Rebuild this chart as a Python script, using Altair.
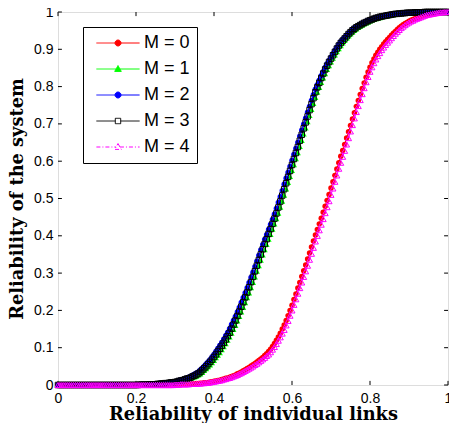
import altair as alt
import pandas as pd

# x sampling grid of the curves (step 0.005 from 0 to 1)
x_values = [round(i * 0.005, 3) for i in range(201)]

# M = 0 (red), zero up to x = 0.295, then from x = 0.300
m0 = [0.0] * 60 + [
    0.001, 0.001, 0.001, 0.002, 0.002, 0.002, 0.002, 0.003, 0.003, 0.003,
    0.003, 0.004, 0.004, 0.005, 0.005, 0.006, 0.006, 0.007, 0.008, 0.009,
    0.010, 0.011, 0.012, 0.013, 0.015, 0.016, 0.018, 0.019, 0.021, 0.023,
    0.025, 0.027, 0.030, 0.032, 0.035, 0.038, 0.041, 0.044, 0.047, 0.051,
    0.054, 0.058, 0.062, 0.066, 0.070, 0.074, 0.079, 0.084, 0.090, 0.096,
    0.103, 0.111, 0.120, 0.129, 0.139, 0.150, 0.161, 0.173, 0.186, 0.200,
    0.214, 0.229, 0.244, 0.260, 0.275, 0.291, 0.306, 0.322, 0.338, 0.354,
    0.370, 0.386, 0.402, 0.417, 0.432, 0.447, 0.463, 0.479, 0.495, 0.511,
    0.528, 0.545, 0.562, 0.579, 0.596, 0.613, 0.629, 0.645, 0.662, 0.679,
    0.696, 0.713, 0.730, 0.747, 0.763, 0.779, 0.795, 0.810, 0.825, 0.839,
    0.852, 0.864, 0.874, 0.884, 0.892, 0.900, 0.907, 0.914, 0.920, 0.926,
    0.932, 0.938, 0.943, 0.948, 0.953, 0.958, 0.962, 0.966, 0.969, 0.972,
    0.975, 0.978, 0.980, 0.982, 0.984, 0.986, 0.988, 0.990, 0.991, 0.992,
    0.994, 0.995, 0.996, 0.997, 0.997, 0.998, 0.999, 0.999, 1.000, 1.000,
    1.000]

# M = 1 (green), zero up to x = 0.195, then from x = 0.200
m1 = [0.0] * 40 + [
    0.000, 0.000, 0.000, 0.000, 0.001, 0.001, 0.001, 0.001, 0.001, 0.001,
    0.002, 0.002, 0.002, 0.003, 0.003, 0.004, 0.004, 0.005, 0.005, 0.006,
    0.007, 0.008, 0.009, 0.010, 0.011, 0.013, 0.014, 0.016, 0.018, 0.020,
    0.022, 0.024, 0.027, 0.030, 0.034, 0.039, 0.044, 0.049, 0.054, 0.060,
    0.066, 0.073, 0.080, 0.087, 0.095, 0.103, 0.111, 0.120, 0.129, 0.139,
    0.149, 0.160, 0.172, 0.184, 0.196, 0.208, 0.221, 0.234, 0.247, 0.261,
    0.275, 0.290, 0.305, 0.320, 0.335, 0.349, 0.363, 0.377, 0.391, 0.404,
    0.418, 0.432, 0.446, 0.461, 0.477, 0.493, 0.509, 0.526, 0.543, 0.559,
    0.575, 0.591, 0.607, 0.623, 0.640, 0.656, 0.673, 0.689, 0.706, 0.723,
    0.739, 0.755, 0.771, 0.785, 0.798, 0.811, 0.823, 0.835, 0.846, 0.856,
    0.866, 0.876, 0.885, 0.894, 0.902, 0.910, 0.917, 0.924, 0.930, 0.936,
    0.941, 0.946, 0.951, 0.955, 0.959, 0.962, 0.965, 0.968, 0.971, 0.973,
    0.976, 0.978, 0.980, 0.982, 0.984, 0.985, 0.987, 0.988, 0.989, 0.990,
    0.991, 0.992, 0.993, 0.994, 0.995, 0.995, 0.996, 0.996, 0.997, 0.997,
    0.998, 0.998, 0.998, 0.999, 0.999, 0.999, 0.999, 0.999, 1.000, 1.000,
    1.0, 1.0, 1.0, 1.0, 1.0, 1.0, 1.0, 1.0, 1.0, 1.0, 1.0]

# M = 2 (blue)
m2 = [0.0] * 40 + [
    0.000, 0.000, 0.001, 0.001, 0.001, 0.001, 0.002, 0.002, 0.002, 0.002,
    0.003, 0.003, 0.004, 0.004, 0.005, 0.005, 0.006, 0.007, 0.008, 0.008,
    0.009, 0.011, 0.012, 0.014, 0.015, 0.017, 0.019, 0.021, 0.023, 0.026,
    0.029, 0.032, 0.035, 0.040, 0.045, 0.050, 0.056, 0.062, 0.068, 0.075,
    0.082, 0.090, 0.098, 0.106, 0.114, 0.123, 0.132, 0.141, 0.151, 0.162,
    0.173, 0.184, 0.196, 0.208, 0.221, 0.234, 0.247, 0.260, 0.274, 0.288,
    0.302, 0.317, 0.332, 0.347, 0.362, 0.376, 0.390, 0.403, 0.417, 0.430,
    0.444, 0.458, 0.473, 0.489, 0.505, 0.521, 0.538, 0.554, 0.570, 0.586,
    0.602, 0.618, 0.634, 0.650, 0.667, 0.683, 0.699, 0.715, 0.731, 0.747,
    0.763, 0.778, 0.793, 0.805, 0.817, 0.829, 0.840, 0.851, 0.861, 0.870,
    0.879, 0.888, 0.897, 0.905, 0.913, 0.920, 0.926, 0.932, 0.938, 0.943,
    0.948, 0.953, 0.957, 0.961, 0.964, 0.967, 0.970, 0.972, 0.975, 0.977,
    0.979, 0.981, 0.983, 0.985, 0.986, 0.987, 0.988, 0.990, 0.991, 0.992,
    0.993, 0.994, 0.994, 0.995, 0.996, 0.996, 0.997, 0.997, 0.998, 0.998,
    0.998, 0.999, 0.999, 0.999, 0.999, 1.000, 1.000, 1.000, 1.000, 1.000,
    1.0, 1.0, 1.0, 1.0, 1.0, 1.0, 1.0, 1.0, 1.0, 1.0, 1.0]

# M = 3 (black)
m3 = [0.0] * 40 + [
    0.000, 0.000, 0.001, 0.001, 0.001, 0.001, 0.001, 0.002, 0.002, 0.002,
    0.002, 0.003, 0.003, 0.004, 0.004, 0.005, 0.005, 0.006, 0.007, 0.007,
    0.008, 0.009, 0.011, 0.012, 0.013, 0.015, 0.017, 0.018, 0.020, 0.023,
    0.025, 0.028, 0.031, 0.035, 0.040, 0.045, 0.050, 0.056, 0.062, 0.068,
    0.075, 0.082, 0.090, 0.097, 0.105, 0.113, 0.122, 0.131, 0.140, 0.151,
    0.162, 0.173, 0.185, 0.197, 0.210, 0.222, 0.235, 0.248, 0.262, 0.276,
    0.290, 0.305, 0.320, 0.335, 0.350, 0.364, 0.378, 0.391, 0.405, 0.418,
    0.432, 0.446, 0.460, 0.476, 0.492, 0.508, 0.525, 0.541, 0.558, 0.574,
    0.590, 0.606, 0.622, 0.638, 0.655, 0.671, 0.688, 0.704, 0.720, 0.737,
    0.753, 0.769, 0.785, 0.798, 0.810, 0.823, 0.835, 0.846, 0.856, 0.866,
    0.875, 0.884, 0.893, 0.902, 0.910, 0.917, 0.923, 0.929, 0.935, 0.941,
    0.946, 0.951, 0.955, 0.959, 0.962, 0.965, 0.968, 0.971, 0.973, 0.976,
    0.978, 0.980, 0.982, 0.984, 0.985, 0.987, 0.988, 0.989, 0.990, 0.991,
    0.992, 0.993, 0.994, 0.995, 0.995, 0.996, 0.996, 0.997, 0.997, 0.998,
    0.998, 0.998, 0.998, 0.999, 0.999, 0.999, 0.999, 0.999, 1.000, 1.000,
    1.0, 1.0, 1.0, 1.0, 1.0, 1.0, 1.0, 1.0, 1.0, 1.0, 1.0]

# M = 4 (magenta)
m4 = [0.0] * 60 + [
    0.001, 0.001, 0.001, 0.002, 0.002, 0.002, 0.002, 0.002, 0.003, 0.003,
    0.003, 0.003, 0.004, 0.004, 0.005, 0.005, 0.006, 0.006, 0.007, 0.008,
    0.009, 0.010, 0.011, 0.012, 0.013, 0.015, 0.016, 0.018, 0.019, 0.021,
    0.023, 0.025, 0.027, 0.030, 0.032, 0.035, 0.038, 0.041, 0.044, 0.047,
    0.050, 0.054, 0.057, 0.061, 0.065, 0.069, 0.073, 0.078, 0.082, 0.088,
    0.095, 0.102, 0.110, 0.119, 0.128, 0.138, 0.148, 0.160, 0.172, 0.186,
    0.200, 0.215, 0.230, 0.245, 0.260, 0.275, 0.290, 0.305, 0.320, 0.336,
    0.352, 0.368, 0.385, 0.400, 0.415, 0.430, 0.445, 0.461, 0.477, 0.493,
    0.510, 0.527, 0.545, 0.562, 0.580, 0.596, 0.612, 0.628, 0.645, 0.662,
    0.680, 0.697, 0.715, 0.732, 0.748, 0.764, 0.780, 0.796, 0.812, 0.826,
    0.840, 0.852, 0.863, 0.873, 0.882, 0.890, 0.898, 0.905, 0.912, 0.918,
    0.924, 0.930, 0.936, 0.942, 0.947, 0.952, 0.957, 0.961, 0.965, 0.969,
    0.972, 0.975, 0.977, 0.980, 0.982, 0.984, 0.986, 0.988, 0.990, 0.992,
    0.993, 0.994, 0.995, 0.996, 0.997, 0.998, 0.999, 0.999, 1.000, 1.000,
    1.000]

series_names = ["M = 0", "M = 1", "M = 2", "M = 3", "M = 4"]
series_values = [m0, m1, m2, m3, m4]
series_colors = ["#ff0000", "#00ff00", "#0000ff", "#000000", "#ff00ff"]

x_ticks = [0, 0.2, 0.4, 0.6, 0.8, 1.0]
y_ticks = [0, 0.1, 0.2, 0.3, 0.4, 0.5, 0.6, 0.7, 0.8, 0.9, 1.0]

x_title = "Reliability of individual links"
y_title = "Reliability of the system"

# ---------------------------------------------------------------- styling
LABEL_FONT = "Liberation Sans"
TITLE_FONT = "DejaVu Serif"
TITLE_SIZE = 17.8

xscale = alt.Scale(domain=[0, 1], nice=False, zero=False)
yscale = alt.Scale(domain=[0, 1], nice=False, zero=False)

xaxis = alt.Axis(values=x_ticks, format="~g", title=x_title, ticks=False, domain=False,
                 grid=False, labelFont=LABEL_FONT, labelFontSize=14, labelColor="black",
                 labelPadding=6, labelFlush=False, labelOverlap=False,
                 titleFont=TITLE_FONT, titleFontSize=TITLE_SIZE, titleFontWeight="bold",
                 titleColor="black", titlePadding=0)
yaxis = alt.Axis(values=y_ticks, format="~g", title=y_title, ticks=False, domain=False,
                 grid=False, labelFont=LABEL_FONT, labelFontSize=14, labelColor="black",
                 labelPadding=5, labelFlush=False, labelOverlap=False,
                 titleFont=TITLE_FONT, titleFontSize=TITLE_SIZE, titleFontWeight="bold",
                 titleColor="black", titlePadding=7)

# inward tick marks (length in axis units)
tick_len_x = 0.010
tick_len_y = 0.011
xt = pd.DataFrame({"t": x_ticks, "b0": 0.0, "b1": tick_len_y, "u0": 1.0, "u1": 1 - tick_len_y})
yt = pd.DataFrame({"t": y_ticks, "l0": 0.0, "l1": tick_len_x, "r0": 1.0, "r1": 1 - tick_len_x})
tick_style = dict(color="black", strokeWidth=1)


def X(field):
    return alt.X(field, type="quantitative", scale=xscale, axis=xaxis)


def Y(field):
    return alt.Y(field, type="quantitative", scale=yscale, axis=yaxis)


ticks_bottom = alt.Chart(xt).mark_rule(**tick_style).encode(x=X("t"), y=Y("b0"), y2="b1")
ticks_top = alt.Chart(xt).mark_rule(**tick_style).encode(x=X("t"), y=Y("u0"), y2="u1")
ticks_left = alt.Chart(yt).mark_rule(**tick_style).encode(y=Y("t"), x=X("l0"), x2="l1")
ticks_right = alt.Chart(yt).mark_rule(**tick_style).encode(y=Y("t"), x=X("r0"), x2="r1")

marker_shapes = ["circle", "triangle-up", "circle", "square", "triangle-up"]
marker_filled = [True, True, True, False, False]
marker_sizes = [30, 36, 30, 30, 36]

layers = [ticks_bottom, ticks_top, ticks_left, ticks_right]
for name, ys, col, shp, fil, sz in zip(series_names, series_values, series_colors,
                                         marker_shapes, marker_filled, marker_sizes):
    df = pd.DataFrame({"x": x_values, "y": ys})
    base = alt.Chart(df).encode(x=X("x"), y=Y("y"))
    line_kw = dict(color=col, strokeWidth=1)
    if name == "M = 4":
        line_kw["strokeDash"] = [5, 2, 1, 2]
    layers.append(base.mark_line(**line_kw))
    layers.append(base.mark_point(shape=shp, filled=fil, color=col, size=sz,
                                  strokeWidth=1, opacity=1))

# legend: line + marker symbols (custom paths, unit = 3 px)
legend_paths = [
    "M-7.2,0H-1M1,0H7.2M-1,0A1,1 0 1,1 1,0A1,1 0 1,1 -1,0Z",
    "M-7.2,0H-0.65M0.65,0H7.2M0,-1.15L1.1,0.8L-1.1,0.8Z",
    "M-7.2,0H-1M1,0H7.2M-1,0A1,1 0 1,1 1,0A1,1 0 1,1 -1,0Z",
    "M-7.2,0H-0.9M0.9,0H7.2M-0.9,-0.9H0.9V0.9H-0.9Z",
    "M-7.2,0H-0.65M0.65,0H7.2M0,-1.15L1.1,0.8L-1.1,0.8Z",
]
legend_fills = ["#ff0000", "#00ff00", "#0000ff", "#ffffff", "#ffffff"]
legend_dashes = [[1, 0], [1, 0], [1, 0], [1, 0], [4, 2, 1, 2]]

leg = alt.Legend(title=None, orient="none", legendX=25, legendY=15,
                 fillColor="white", strokeColor="black",
                 padding=7, cornerRadius=0, labelFont=LABEL_FONT, labelFontSize=18,
                 labelColor="black", labelOffset=17, symbolOffset=19,
                 symbolSize=36, symbolStrokeWidth=1, rowPadding=8)

legend_df = pd.DataFrame({"series": series_names})
legend_layer = alt.Chart(legend_df).mark_point(size=36, opacity=1, clip=True,
                                               strokeWidth=1).encode(
    x=alt.value(-300), y=alt.value(-300),
    shape=alt.Shape("series:N", scale=alt.Scale(domain=series_names, range=legend_paths), legend=leg),
    stroke=alt.Stroke("series:N", scale=alt.Scale(domain=series_names, range=series_colors), legend=leg),
    fill=alt.Fill("series:N", scale=alt.Scale(domain=series_names, range=legend_fills), legend=leg),
    strokeDash=alt.StrokeDash("series:N", scale=alt.Scale(domain=series_names, range=legend_dashes), legend=leg),
)
layers.append(legend_layer)

chart = alt.layer(*layers).properties(
    width=390, height=373,
    autosize=alt.AutoSizeParams(type="none"),
    padding={"left": 50, "top": 4, "right": 1, "bottom": 38},
).configure_view(
    stroke="black", strokeWidth=1.5
).configure_legend(
    strokeWidth=1
).configure(background="white")

chart.save("out.html", embed_options={"renderer": "svg", "actions": False})
